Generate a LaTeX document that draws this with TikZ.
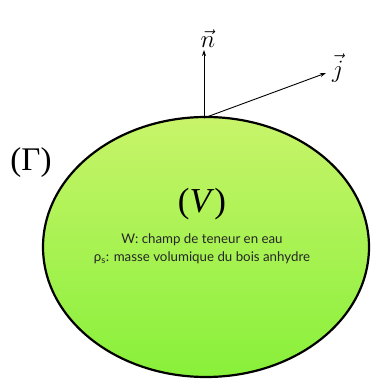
\documentclass[tikz,border=0pt]{standalone}
\usepackage{fontspec}
\setmainfont{Liberation Serif}
\newfontfamily\gill{Lato}
\usetikzlibrary{arrows.meta,positioning}
\definecolor{vertclair}{HTML}{C8F46A}
\definecolor{vertfonce}{HTML}{88F03A}
\tikzset{
    vecteur/.style={-{Stealth[length=6pt,width=4pt]}, line width=0.9pt},
    lettre/.style={font=\fontsize{26}{30}\selectfont, inner sep=1pt}
}
\begin{document}
\begin{tikzpicture}[x=1pt,y=1pt]
    \useasboundingbox (0,0) rectangle (376,379);
    % le domaine (V)
    \shade[top color=vertclair, bottom color=vertfonce, draw=black, line width=2.2pt]
        (206,132) ellipse [x radius=163, y radius=130];
    % bord (Gamma)
    \node[font=\fontsize{33}{36}\selectfont, inner sep=0pt] (gamma) at (31,216) {(Γ)};
    % textes
    \node[font=\fontsize{35}{38}\selectfont, inner sep=0pt] (vol) at (202,175) {(\textit{V})};
    \node[font=\gill\fontsize{13.3}{18}\selectfont, text=black!85, align=center, below=10pt of vol] (desc)
        {W: champ de teneur en eau\\ρ\textsubscript{s}: masse volumique du bois anhydre};
    % vecteurs
    \coordinate (pied) at (204,261);
    \coordinate (bout n) at (204,329);
    \coordinate (bout j) at (326,306);
    \draw[vecteur] (pied) -- (bout n);
    \draw[vecteur] (pied) -- (bout j);
    \node[lettre, above=1pt of bout n, xshift=4pt] (n) {$\vec{n}$};
    \node[lettre, right=5pt of bout j, yshift=5pt] (j) {$\vec{j}$};
\end{tikzpicture}
\end{document}
